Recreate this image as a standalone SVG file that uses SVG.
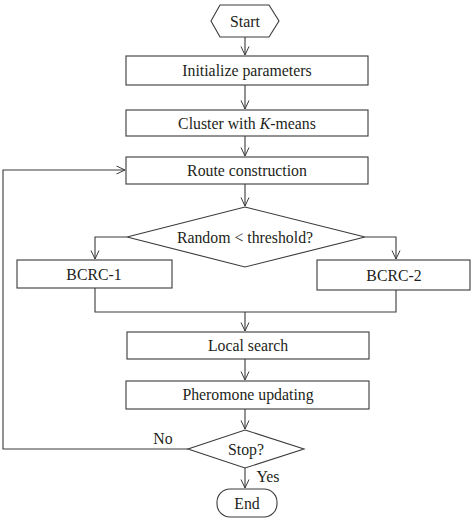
<svg xmlns="http://www.w3.org/2000/svg" width="475" height="521" viewBox="0 0 475 521">
<defs>
<marker id="arr" viewBox="0 0 10 10" refX="9.5" refY="5" markerWidth="10" markerHeight="10" markerUnits="userSpaceOnUse" orient="auto">
<path d="M1,1 L9.5,5 L1,9" fill="none" stroke="#3a3a3a" stroke-width="1"/>
</marker>
</defs>
<style>
.s{fill:#fff;stroke:#3a3a3a;stroke-width:1.1}
.t{font-family:"Liberation Serif","Times New Roman",serif;font-size:15.8px;fill:#231f20;text-anchor:middle}
.c{fill:none;stroke:#3a3a3a;stroke-width:1.1}
</style>
<rect width="475" height="521" fill="#fff"/>
<g id="connectors">
<path class="c" d="M245,37 V55" marker-end="url(#arr)"/>
<path class="c" d="M245,85 V109" marker-end="url(#arr)"/>
<path class="c" d="M245,136 V156" marker-end="url(#arr)"/>
<path class="c" d="M245,184 V206" marker-end="url(#arr)"/>
<path class="c" d="M127,237 H95 V259" marker-end="url(#arr)"/>
<path class="c" d="M365,237 H396 V259" marker-end="url(#arr)"/>
<path class="c" d="M95,288 V312 H396 V290"/>
<path class="c" d="M245,312 V331" marker-end="url(#arr)"/>
<path class="c" d="M245,359 V380" marker-end="url(#arr)"/>
<path class="c" d="M245,409 V429" marker-end="url(#arr)"/>
<path class="c" d="M188,449 H3 V170 H125" marker-end="url(#arr)"/>
<path class="c" d="M245,468 V488" marker-end="url(#arr)"/>
<text class="t" x="163" y="444">No</text>
<text class="t" x="268" y="482">Yes</text>
</g>
<g id="start">
<polygon class="s" points="211,21 220,5 269,5 279,21 269,37 220,37"/>
<text class="t" x="245" y="26.5">Start</text>
</g>
<g id="init">
<rect class="s" x="126" y="56" width="242" height="29"/>
<text class="t" x="247" y="76">Initialize parameters</text>
</g>
<g id="cluster">
<rect class="s" x="126" y="110" width="242" height="26"/>
<text class="t" x="247" y="128.5">Cluster with <tspan font-style="italic">K</tspan>-means</text>
</g>
<g id="route">
<rect class="s" x="126" y="157" width="242" height="27"/>
<text class="t" x="247" y="175.5">Route construction</text>
</g>
<g id="random">
<polygon class="s" points="245,207 365,237 245,267 127,237"/>
<text class="t" x="245" y="242.5">Random &lt; threshold?</text>
</g>
<g id="bcrc1">
<rect class="s" x="17" y="260" width="155" height="28"/>
<text class="t" x="94" y="279.5">BCRC-1</text>
</g>
<g id="bcrc2">
<rect class="s" x="317" y="260" width="153" height="30"/>
<text class="t" x="394" y="280.5">BCRC-2</text>
</g>
<g id="local">
<rect class="s" x="127" y="332" width="242" height="27"/>
<text class="t" x="248" y="350.5">Local search</text>
</g>
<g id="pheromone">
<rect class="s" x="126" y="381" width="243" height="28"/>
<text class="t" x="248" y="400">Pheromone updating</text>
</g>
<g id="stop">
<polygon class="s" points="245,430 304,449 245,468 188,449"/>
<text class="t" x="246" y="454.5">Stop?</text>
</g>
<g id="end">
<rect class="s" x="217" y="489" width="60" height="28" rx="13" ry="13"/>
<text class="t" x="247" y="508.5">End</text>
</g>
</svg>
